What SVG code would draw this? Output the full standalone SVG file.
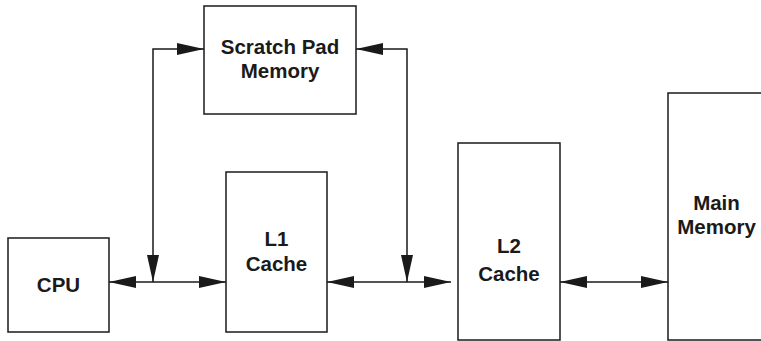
<svg xmlns="http://www.w3.org/2000/svg" width="761" height="341" viewBox="0 0 761 341">
  <style>
    .box { fill: #ffffff; stroke: #1a1a1a; stroke-width: 1.5; }
    .lbl { font-family: "Liberation Sans", Arial, sans-serif; font-weight: bold; font-size: 20.5px; fill: #1a1a1a; text-anchor: middle; }
    .wire { fill: none; stroke: #1a1a1a; stroke-width: 1.5; marker-start: url(#head); marker-end: url(#head); }
  </style>
  <defs>
    <marker id="head" viewBox="0 0 27 12" refX="27" refY="6" markerWidth="27" markerHeight="12" markerUnits="userSpaceOnUse" orient="auto-start-reverse">
      <path d="M0,0 L27,6 L0,12 Z" fill="#1a1a1a"/>
    </marker>
  </defs>
  <rect width="761" height="341" fill="#ffffff"/>

  <g id="connectors">
    <path class="wire" d="M109,282 H226"/>
    <path class="wire" d="M153,282 V49 H204"/>
    <path class="wire" d="M407,282 V49 H356"/>
    <path class="wire" d="M327,282 H451"/>
    <path class="wire" d="M560,282 H668"/>
  </g>

  <g id="scratchpad">
    <rect class="box" x="204" y="6" width="152" height="108"/>
    <text class="lbl" x="280" y="54">Scratch Pad</text>
    <text class="lbl" x="280" y="78">Memory</text>
  </g>

  <g id="cpu">
    <rect class="box" x="8" y="238" width="101" height="94"/>
    <text class="lbl" x="58.5" y="291.5">CPU</text>
  </g>

  <g id="l1">
    <rect class="box" x="226" y="172" width="101" height="160"/>
    <text class="lbl" x="276.5" y="246">L1</text>
    <text class="lbl" x="276.5" y="270.5">Cache</text>
  </g>

  <g id="l2">
    <rect class="box" x="458" y="143" width="102" height="197"/>
    <text class="lbl" x="509" y="252.5">L2</text>
    <text class="lbl" x="509" y="281">Cache</text>
  </g>

  <g id="mainmem">
    <rect class="box" x="668" y="93" width="110" height="247"/>
    <text class="lbl" x="716.5" y="209.5">Main</text>
    <text class="lbl" x="716.5" y="234">Memory</text>
  </g>
</svg>
